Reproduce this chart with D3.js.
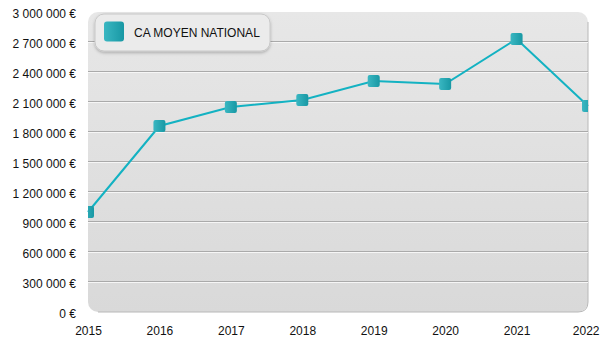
<!DOCTYPE html>
<html><head><meta charset="utf-8">
<script src="https://cdn.jsdelivr.net/npm/d3@7"></script>
<style>body{margin:0;background:#fff}svg{display:block;font-family:"Liberation Sans",Arial,sans-serif}</style>
</head><body><svg id="c" width="600" height="350"></svg>
<script>
const years = ["2015","2016","2017","2018","2019","2020","2021","2022"];
const caMoyen = [1000000,1860000,2050000,2120000,2310000,2280000,2730000,2060000];
const yTicks = [0,300000,600000,900000,1200000,1500000,1800000,2100000,2400000,2700000,3000000];
const seriesName = "CA MOYEN NATIONAL";

const svg = d3.select("#c");
const L=88,R=588,T=12,B=312;
const x = d3.scalePoint().domain(years).range([L,R]);
const y = d3.scaleLinear().domain([0,3000000]).range([B,T]);
const defs = svg.append("defs");
const bg = defs.append("linearGradient").attr("id","bg").attr("x1",0).attr("y1",0).attr("x2",0).attr("y2",1);
bg.append("stop").attr("offset","0%").attr("stop-color","#e7e7e7");
bg.append("stop").attr("offset","100%").attr("stop-color","#d9d9d9");
const mg = defs.append("linearGradient").attr("id","mk").attr("x1",0).attr("y1",0).attr("x2",1).attr("y2",0);
mg.append("stop").attr("offset","0%").attr("stop-color","#3ab7c2");
mg.append("stop").attr("offset","100%").attr("stop-color","#1898a4");
const sh = defs.append("filter").attr("id","sh").attr("x","-20%").attr("y","-30%").attr("width","140%").attr("height","170%");
sh.append("feDropShadow").attr("dx",0).attr("dy",1.5).attr("stdDeviation",1.5).attr("flood-color","#000").attr("flood-opacity",0.25);

// plot background with rounded corners
svg.append("rect").attr("x",L).attr("y",T).attr("width",R-L).attr("height",B-T)
  .attr("rx",10).attr("fill","url(#bg)");
svg.append("path").attr("d",`M${R},${T+10} L${R},${B-10} Q${R},${B} ${R-10},${B} L${L+10},${B}`)
  .attr("fill","none").attr("stroke","#b8b8b8").attr("stroke-width",1);

// gridlines
const grid = svg.append("g");
yTicks.slice(1,-1).forEach(t=>{
  grid.append("line").attr("x1",L).attr("x2",R).attr("y1",Math.round(y(t))-0.5).attr("y2",Math.round(y(t))-0.5).attr("stroke","#aaaaaa");
  grid.append("line").attr("x1",L).attr("x2",R).attr("y1",Math.round(y(t))+0.5).attr("y2",Math.round(y(t))+0.5).attr("stroke","#f6f6f6");
});

// axes
const fmt = v => d3.format(",")(v).replace(/,/g," ")+" €";
const ya = svg.append("g").attr("transform",`translate(${L},0)`)
  .call(d3.axisLeft(y).tickValues(yTicks).tickFormat(fmt).tickSize(0).tickPadding(12));
ya.select(".domain").remove();
ya.selectAll("text").attr("font-size",12).attr("fill","#111").attr("dy","0.42em");
const xa = svg.append("g").attr("transform",`translate(0,${B})`)
  .call(d3.axisBottom(x).tickSize(0).tickPadding(14));
xa.select(".domain").remove();
xa.selectAll("text").attr("font-size",12).attr("fill","#111");
xa.selectAll(".tick").filter(d=>d===years[years.length-1]).select("text")
  .attr("text-anchor","end").attr("x",600-R-1);

// line
svg.append("path").datum(caMoyen.map((v,i)=>[years[i],v]))
  .attr("fill","none").attr("stroke","#13b2c2").attr("stroke-width",2)
  .attr("d",d3.line().x(d=>x(d[0])).y(d=>y(d[1])));

// markers
const clip = defs.append("clipPath").attr("id","pc");
clip.append("rect").attr("x",L).attr("y",0).attr("width",R-L).attr("height",350);
svg.append("g").attr("clip-path","url(#pc)").selectAll("rect").data(caMoyen).join("rect")
  .attr("x",(d,i)=>x(years[i])-6).attr("y",d=>y(d)-6).attr("width",12).attr("height",12)
  .attr("rx",2).attr("fill","url(#mk)");

// legend
const lg = svg.append("g");
lg.append("rect").attr("x",95).attr("y",14).attr("width",175).attr("height",37).attr("rx",9)
  .attr("fill","#ebebeb").attr("stroke","#c8c8c8").attr("stroke-width",1).attr("filter","url(#sh)");
lg.append("rect").attr("x",104).attr("y",21.5).attr("width",20).attr("height",20).attr("rx",3).attr("fill","url(#mk)");
lg.append("text").attr("x",134).attr("y",36.5).attr("font-size",12).attr("fill","#111").text(seriesName);
</script></body></html>
